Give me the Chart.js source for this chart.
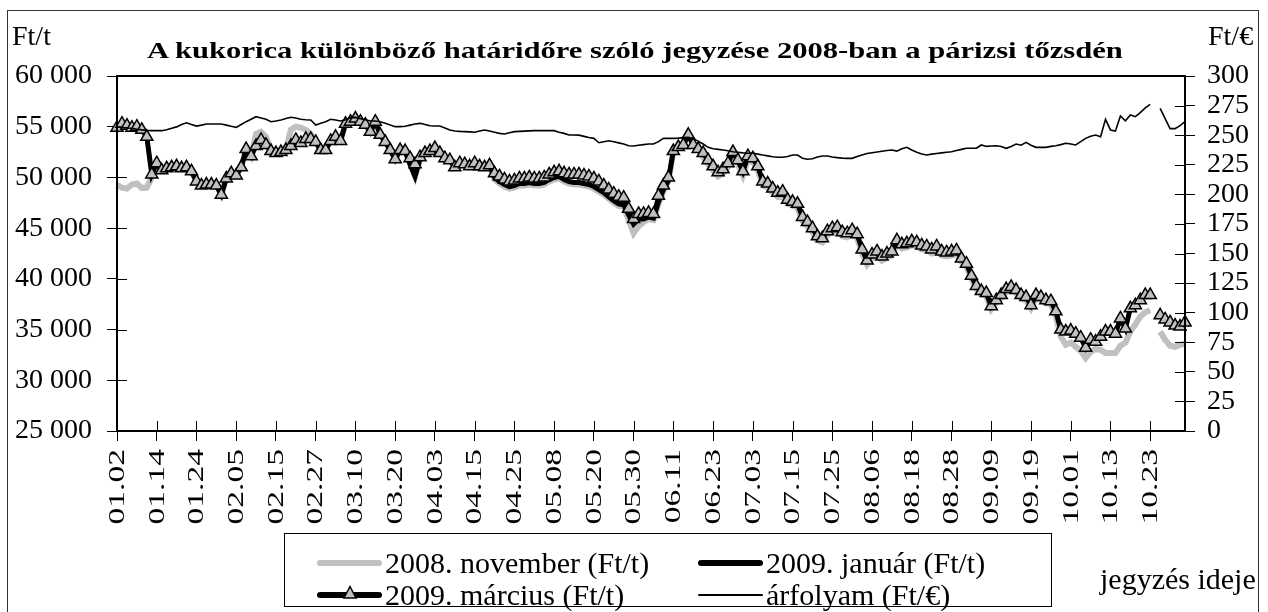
<!DOCTYPE html>
<html><head><meta charset="utf-8">
<script src="https://cdn.jsdelivr.net/npm/chart.js@4"></script>
<style>
body{margin:0;background:#fff;}
#wrap{position:relative;width:1268px;height:612px;overflow:hidden;}
canvas{position:absolute;left:0;top:0;}
.t{position:absolute;font-family:"Liberation Serif","Times New Roman",serif;color:#000;white-space:nowrap;line-height:1;}
#frame{position:absolute;left:7px;top:10px;width:1252px;height:610px;border:1px solid #333;box-sizing:border-box;}
#legend{position:absolute;left:284px;top:533px;width:768px;height:74px;border:1px solid #000;box-sizing:border-box;}
.sw{position:absolute;}
</style></head><body>
<div id="wrap">
<canvas id="c" width="1268" height="612"></canvas>
<div id="frame"></div>
<div class="t" id="title" style="font-weight:bold;font-size:23px;left:147px;top:39px;transform:scaleX(1.33);transform-origin:0 0;">A kukorica különböző határidőre szóló jegyzése 2008-ban a párizsi tőzsdén</div>
<div class="t" style="font-size:28px;left:12px;top:21.5px;">Ft/t</div>
<div class="t" style="font-size:28px;left:1208px;top:21.5px;">Ft/€</div>
<div class="t" style="font-size:30px;left:1100px;top:564px;">jegyzés ideje</div>
<div id="legend"></div>
</div>
<script>
// trading days (categories)
const dates = [
'01.02','01.03','01.04','01.07','01.08','01.09','01.10','01.11','01.14','01.15','01.16','01.17','01.18','01.21','01.22','01.23','01.24','01.25','01.28','01.29','01.30','01.31',
'02.01','02.04','02.05','02.06','02.07','02.08','02.11','02.12','02.13','02.14','02.15','02.18','02.19','02.20','02.21','02.22','02.25','02.26','02.27','02.28','02.29',
'03.03','03.04','03.05','03.06','03.07','03.10','03.11','03.12','03.13','03.14','03.17','03.18','03.19','03.20','03.25','03.26','03.27','03.28','03.31',
'04.01','04.02','04.03','04.04','04.07','04.08','04.09','04.10','04.11','04.14','04.15','04.16','04.17','04.18','04.21','04.22','04.23','04.24','04.25','04.28','04.29','04.30',
'05.02','05.05','05.06','05.07','05.08','05.09','05.12','05.13','05.14','05.15','05.16','05.19','05.20','05.21','05.22','05.23','05.26','05.27','05.28','05.29','05.30',
'06.02','06.03','06.04','06.05','06.06','06.09','06.10','06.11','06.12','06.13','06.16','06.17','06.18','06.19','06.20','06.23','06.24','06.25','06.26','06.27','06.30',
'07.01','07.02','07.03','07.04','07.07','07.08','07.09','07.10','07.11','07.14','07.15','07.16','07.17','07.18','07.21','07.22','07.23','07.24','07.25','07.28','07.29','07.30','07.31',
'08.01','08.04','08.05','08.06','08.07','08.08','08.11','08.12','08.13','08.14','08.15','08.18','08.19','08.20','08.21','08.22','08.25','08.26','08.27','08.28','08.29',
'09.01','09.02','09.03','09.04','09.05','09.08','09.09','09.10','09.11','09.12','09.15','09.16','09.17','09.18','09.19','09.22','09.23','09.24','09.25','09.26','09.29','09.30',
'10.01','10.02','10.03','10.06','10.07','10.08','10.09','10.10','10.13','10.14','10.15','10.16','10.17','10.20','10.21','10.22','10.23','10.24','10.27','10.28','10.29','10.30','10.31',
'11.03'];

// x tick labels shown on the axis
const shownLabels = ['01.02','01.14','01.24','02.05','02.15','02.27','03.10','03.20','04.03','04.15','04.25','05.08','05.20','05.30','06.11','06.23','07.03','07.15','07.25','08.06','08.18','08.28','09.09','09.19','10.01','10.13','10.23'];

// 2008. november contract (Ft/t)
const nov2008 = [
49250,49000,48900,49300,49400,48950,49000,50000,51300,50700,
50900,51000,51100,50900,51000,50600,49600,49200,49300,49300,
49200,48300,49900,50400,50200,51000,52800,52100,54300,54500,
54000,52800,52400,52500,52700,54700,55000,54900,54700,54300,
53500,52700,52700,53600,54000,53600,55300,55500,55800,55500,
55200,54500,55500,54200,53500,52700,51800,52700,52600,51300,
50100,51800,52400,52600,52900,52400,51900,51700,51000,51400,
51300,51100,51400,51100,51000,51200,49800,49400,49100,48900,
49000,49200,49200,49300,49200,49200,49300,49600,49800,49900,
49600,49400,49300,49300,49200,49100,48900,48600,48300,47900,
47500,47200,47100,45800,44500,45200,45600,45900,45800,47400,
48600,49600,52600,53000,53200,54200,53200,52800,52000,51300,
50700,50100,50400,51000,52100,51300,50200,51700,51500,50700,
49200,49000,48500,48100,48200,47400,47200,47000,45700,45200,
44600,43800,43600,44300,44600,44700,44200,44100,44400,44000,
42500,41400,42000,42300,41800,42100,42300,43400,43000,43100,
43300,43200,42900,42800,42500,42800,42300,42200,42300,42400,
41700,41200,40000,39000,38500,38300,37000,37600,38100,38700,
38900,38600,38100,37900,37100,38100,37900,37600,37500,36300,
34300,33500,33700,33300,32900,32200,32800,33100,33000,32700,
32700,32700,33400,33700,34800,35500,36300,36700,36900,null,
34800,34000,33400,33300,33500,33600];

// 2009. január contract (Ft/t)
const jan2009 = [
54900,55300,55100,54900,55000,54700,54000,50300,51400,50700,
50900,51000,51100,50900,51000,50600,49600,49200,49300,49300,
49200,48300,49900,50400,50200,51000,52800,52100,53100,53700,
53200,52600,52400,52500,52700,53100,53700,53400,53800,53800,
53500,52700,52700,53600,54000,53600,55300,55500,55800,55500,
55200,54500,55500,54200,53500,52700,51800,52700,52600,51300,
50100,51800,52400,52600,52900,52400,51900,51700,51000,51400,
51300,51100,51400,51100,51000,51200,50000,49600,49300,49100,
49200,49400,49400,49500,49400,49400,49500,49800,50000,50100,
49800,49600,49500,49500,49400,49300,49100,48800,48500,48100,
47700,47400,47300,46300,45400,45900,45900,46100,46000,47600,
48800,49700,52600,53000,53200,54200,53200,52800,52400,51700,
51100,50500,50800,51400,52500,51700,50600,52100,51900,51100,
49600,49400,48900,48500,48600,47800,47600,47400,46100,45600,
45000,44200,44000,44700,45000,45100,44600,44500,44800,44400,
42900,41800,42400,42700,42200,42500,42700,43800,43400,43500,
43700,43600,43300,43200,42900,43200,42700,42600,42700,42800,
42000,41500,40300,39300,38800,38600,37300,37900,38400,39000,
39200,38900,38400,38200,37400,38400,38200,37900,37800,36800,
35000,34800,34900,34600,34200,33200,34000,33800,34300,34800,
34800,34600,36100,35100,37100,37400,37900,38400,38400,null,
36400,36000,35700,35400,35300,35700];

// 2009. március contract (Ft/t)
const mar2009 = [
54900,55300,55100,54900,55000,54700,54000,50300,51400,50700,
50900,51000,51100,50900,51000,50600,49600,49200,49300,49300,
49200,48300,49900,50400,50200,51000,52800,52100,53100,53700,
53200,52600,52400,52500,52700,53100,53700,53400,53800,53800,
53500,52700,52700,53600,54000,53600,55300,55500,55800,55500,
55200,54500,55500,54200,53500,52700,51800,52700,52600,51900,
51300,52000,52400,52600,52900,52400,51900,51700,51000,51400,
51300,51100,51400,51100,51000,51200,50400,50100,49800,49600,
49700,49900,49900,50000,49900,49900,50000,50300,50500,50600,
50400,50300,50300,50300,50200,50100,49900,49600,49200,48800,
48400,48100,48000,46900,45900,46400,46400,46500,46400,48200,
49200,50000,52600,53000,53200,54200,53200,52800,52400,51700,
51100,50500,50800,51400,52500,51700,50600,52100,51900,51100,
49600,49400,48900,48500,48600,47800,47600,47400,46100,45600,
45000,44200,44000,44700,45000,45100,44600,44500,44800,44400,
42900,41800,42400,42700,42200,42500,42700,43800,43400,43500,
43700,43600,43300,43200,42900,43200,42700,42600,42700,42800,
42000,41500,40300,39300,38800,38600,37300,37900,38400,39000,
39200,38900,38400,38200,37400,38400,38200,37900,37800,36800,
35000,34800,34900,34600,34200,33200,34000,33800,34300,34800,
34800,34600,36100,35100,37100,37400,37900,38400,38400,null,
36400,36000,35700,35400,35300,35700];

// exchange rate (Ft/€)
const rateHUF = [
257,256.5,256,255.8,255,254.5,254,253.8,253.8,253.8,
254.5,255.8,257,259,260.5,259,257.7,258.5,259.4,259.4,
259.4,259.4,258.5,257.5,256.6,259,261.4,263.5,265.6,264.5,
263.4,261.4,262,262.8,264,265.1,264.5,263.4,263,262.8,
258.6,260,261.4,263.4,262.8,262,263,264.8,265,264,
263,262,262,261.4,260,258.5,257.2,257.2,257.5,258.5,
259.5,260,259,258,257.7,257.7,256,254.4,253.5,253.2,
253,252.8,252.5,253.5,254.4,253.5,252.5,251.5,251,252,
253,253.2,253.4,253.6,253.8,253.8,253.8,253.8,253.8,252.5,
251.5,250.1,250.1,250,249,248,247.3,243.6,244.5,245.3,
244.5,243.5,242.5,241,240.8,241.5,242,242.5,242.5,244.5,
247.3,247.3,247.3,247.5,248,248.1,247,245,242.5,239.7,
238.5,238,237.5,236.9,236,235.5,235,234.7,234.7,234,
233.2,232.5,231.8,231.3,231.3,232,233.2,233.2,230.5,229.6,
230,231.5,232.4,232.4,231.5,231,230.6,230.4,230.4,232,
233.2,234.5,235.2,235.8,236.4,237,237.5,236.5,238.5,239.7,
237.5,235.5,234,233.2,234,234.5,235,235.5,236,237,
238,238.9,238.9,239,241.7,240.5,240.8,241,240.5,238.9,
240.5,242.5,241.5,243.9,241.5,239.7,239.7,239.7,240.5,241,
242,243.1,242.5,241.7,244.5,247.3,249,250.1,248.7,263.4,
254.4,253.5,266.2,262.2,267,265.6,269,273,276.1,null,
272.7,264,255.5,255.5,258,261.4];

const seriesNames = ['2008. november (Ft/t)','2009. január (Ft/t)','2009. március (Ft/t)','árfolyam (Ft/€)'];

const FONT = 'Liberation Serif';
const fmtThousands = v => String(v).replace(/\B(?=(\d{3})+(?!\d))/g, ' ');

const frameTicks = {
  id: 'frameTicks',
  afterDraw(chart) {
    const {ctx, chartArea: a, scales} = chart;
    ctx.save();
    ctx.strokeStyle = '#000';
    ctx.lineWidth = 1;
    ctx.beginPath();
    scales.x.ticks.forEach((t, i) => {
      if (t.label == null || t.label === '') return;
      const px = Math.round(scales.x.getPixelForTick(i)) + 0.5;
      ctx.moveTo(px, a.bottom); ctx.lineTo(px, a.bottom - 10);
    });
    scales.y.ticks.forEach((t, i) => {
      const py = Math.round(scales.y.getPixelForTick(i)) + 0.5;
      ctx.moveTo(a.left, py); ctx.lineTo(a.left + 10, py);
    });
    scales.y2.ticks.forEach((t, i) => {
      const py = Math.round(scales.y2.getPixelForTick(i)) + 0.5;
      ctx.moveTo(a.right, py); ctx.lineTo(a.right - 10, py);
    });
    ctx.stroke();
    ctx.lineWidth = 2;
    ctx.strokeRect(a.left, a.top, a.right - a.left, a.bottom - a.top);
    // x tick labels (rotated, elongated along the text like the original)
    ctx.fillStyle = '#000';
    ctx.font = '24px "Liberation Serif"';
    ctx.textAlign = 'right';
    ctx.textBaseline = 'middle';
    scales.x.ticks.forEach((t, i) => {
      if (t.label == null || t.label === '') return;
      const px = scales.x.getPixelForTick(i);
      ctx.save();
      ctx.translate(px + 1, a.bottom + 18);
      ctx.rotate(-Math.PI / 2);
      ctx.scale(1.4, 0.92);
      ctx.fillText(t.label, 0, 0);
      ctx.restore();
    });
    ctx.restore();
  }
};

new Chart(document.getElementById('c'), {
  type: 'line',
  data: {
    labels: dates,
    datasets: [
      {label: seriesNames[3], data: rateHUF, yAxisID: 'y2', borderColor: '#000', borderWidth: 1.6, pointRadius: 0, tension: 0, spanGaps: false, order: 0},
      {label: seriesNames[2], data: mar2009, yAxisID: 'y', borderColor: '#000', borderWidth: 4, pointStyle: 'triangle', pointRadius: 7, pointBackgroundColor: '#c0c0c0', pointBorderColor: '#000', pointBorderWidth: 1.5, tension: 0, spanGaps: false, clip: 10, order: 1},
      {label: seriesNames[1], data: jan2009, yAxisID: 'y', borderColor: '#000', borderWidth: 5, pointRadius: 0, tension: 0, spanGaps: false, order: 2},
      {label: seriesNames[0], data: nov2008, yAxisID: 'y', borderColor: '#c0c0c0', borderWidth: 6, pointRadius: 0, tension: 0, spanGaps: false, order: 3}
    ]
  },
  options: {
    responsive: false,
    animation: false,
    events: [],
    layout: {padding: {left: 0, right: 0, top: 76, bottom: 0}},
    plugins: {legend: {display: false}, tooltip: {enabled: false}, title: {display: false}},
    scales: {
      x: {
        type: 'category', offset: false,
        grid: {display: true, drawOnChartArea: false, drawTicks: true, tickLength: 10, color: '#000', lineWidth: 1},
        border: {display: true, color: '#000', width: 2},
        ticks: {autoSkip: false, minRotation: 90, maxRotation: 90, padding: 5, color: 'rgba(0,0,0,0)',
          font: {family: FONT, size: 24},
          callback: (v, i) => shownLabels.includes(dates[i]) ? dates[i] : null},
        afterFit: s => { s.height = 612 - 431; }
      },
      y: {
        position: 'left', min: 25000, max: 60000,
        grid: {display: true, drawOnChartArea: false, tickLength: 10, color: '#000', lineWidth: 1},
        border: {display: true, color: '#000', width: 2},
        ticks: {stepSize: 5000, autoSkip: false, padding: 15, color: '#000', font: {family: FONT, size: 28}, callback: v => fmtThousands(v)},
        afterFit: s => { s.width = 117; }
      },
      y2: {
        position: 'right', min: 0, max: 300,
        grid: {display: true, drawOnChartArea: false, tickLength: 10, color: '#000', lineWidth: 1},
        border: {display: true, color: '#000', width: 2},
        ticks: {stepSize: 25, autoSkip: false, padding: 12, color: '#000', font: {family: FONT, size: 28}},
        afterFit: s => { s.width = 1268 - 1185; }
      }
    }
  },
  plugins: [frameTicks]
});

// HTML legend
const legendItems = [
  {name: seriesNames[0], kind: 'gray',  x: 32,  y: 29},
  {name: seriesNames[1], kind: 'black', x: 413, y: 29},
  {name: seriesNames[2], kind: 'tri',   x: 32,  y: 61},
  {name: seriesNames[3], kind: 'thin',  x: 413, y: 61}
];
const lg = document.getElementById('legend');
legendItems.forEach(it => {
  const sw = document.createElement('div');
  sw.className = 'sw';
  const h = it.kind === 'thin' ? 2 : 6;
  sw.style.cssText = `left:${it.x}px;top:${it.y - h/2}px;width:65px;height:${h}px;background:${it.kind==='gray'?'#c0c0c0':'#000'};border-radius:${h/2}px;`;
  lg.appendChild(sw);
  if (it.kind === 'tri') {
    const tri = document.createElementNS('http://www.w3.org/2000/svg','svg');
    tri.setAttribute('width','16'); tri.setAttribute('height','16');
    tri.style.cssText = `position:absolute;left:${it.x + 25}px;top:${it.y - 10}px;`;
    tri.innerHTML = '<polygon points="8,1.5 14,13 2,13" fill="#c0c0c0" stroke="#000" stroke-width="1.5"/>';
    lg.appendChild(tri);
  }
  const tx = document.createElement('div');
  tx.className = 't';
  tx.style.cssText = `font-size:30px;left:${it.x + 68}px;top:${it.y - 15}px;`;
  tx.textContent = it.name;
  lg.appendChild(tx);
});
</script>
</body></html>
